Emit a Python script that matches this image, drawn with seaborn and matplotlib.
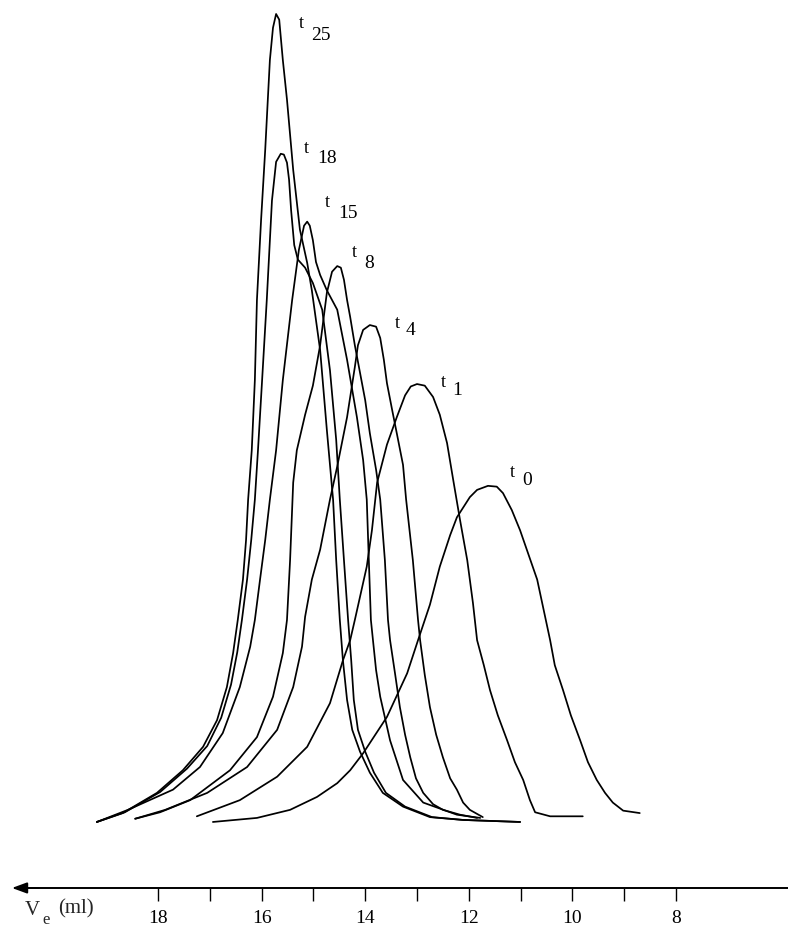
import numpy as np
import pandas as pd
import matplotlib
matplotlib.use("Agg")
import matplotlib.pyplot as plt
import seaborn as sns

# ---------------- data ----------------
samples = ["25", "18", "15", "8", "4", "1", "0"]

t25_ve = [19.18, 18.68, 18.02, 17.52, 17.13, 16.86, 16.67, 16.55, 16.46, 16.36, 16.30, 16.26,
          16.19, 16.13, 16.09, 16.01, 15.93, 15.88, 15.84, 15.78, 15.72,
          15.66, 15.59, 15.51, 15.39, 15.26, 15.12, 15.03, 14.87, 14.74, 14.62, 14.56, 14.49,
          14.43, 14.35, 14.25, 14.10, 13.91, 13.66, 13.27, 12.75, 12.11, 11.01]
t25_sig = [0, 1.1, 3.6, 6.4, 9.3, 12.6, 16.7, 20.9, 25.0, 30.0, 34.9, 39.9,
           46.0, 54.7, 64.6, 74.5, 83.2, 89.4, 94.3, 98.3, 100.0,
           99.3, 94.3, 89.4, 80.7, 73.3, 69.2, 65.8, 58.4, 48.5, 39.9, 32.4, 25.0,
           20.0, 15.1, 11.4, 8.7, 6.1, 3.6, 1.9, 0.6, 0.25, 0]

t18_ve = [19.18, 18.64, 17.96, 17.44, 17.05, 16.78, 16.59, 16.47, 16.38, 16.28, 16.20, 16.13,
          16.07, 15.99, 15.90, 15.80, 15.72, 15.63,
          15.57, 15.51, 15.47, 15.43, 15.37, 15.30, 15.16, 15.01, 14.83, 14.68, 14.56, 14.49,
          14.41, 14.33, 14.27, 14.22, 14.14, 14.00, 13.83, 13.60, 13.23, 12.71, 12.11, 11.01]
t18_sig = [0, 1.2, 3.7, 6.6, 9.4, 12.9, 17.0, 21.0, 25.0, 30.0, 34.9, 39.9,
           46.0, 54.7, 64.6, 76.9, 81.7, 82.7,
           82.6, 81.6, 79.5, 75.7, 71.4, 69.6, 68.6, 66.7, 63.4, 55.9, 47.3, 39.9,
           32.4, 25.0, 20.0, 15.1, 11.4, 8.7, 6.1, 3.6, 1.9, 0.6, 0.25, 0]

t15_ve = [19.18, 18.58, 17.71, 17.19, 16.75, 16.42, 16.22, 16.13, 16.03, 15.93, 15.84, 15.72,
          15.59, 15.41, 15.28, 15.18, 15.12,
          15.07, 15.01, 14.95, 14.87, 14.74, 14.54, 14.35, 14.16, 14.04, 13.97, 13.93, 13.89,
          13.85, 13.79, 13.71, 13.52, 13.27, 12.88, 12.23, 11.78]
t15_sig = [0, 1.5, 4.0, 6.8, 11.0, 16.7, 21.7, 25.0, 30.0, 34.9, 39.9, 46.0,
           54.7, 64.6, 70.8, 73.8, 74.3,
           73.8, 72.0, 69.3, 67.7, 65.8, 63.4, 57.2, 50.1, 44.8, 39.9, 32.4, 25.0,
           22.5, 18.8, 15.5, 10.1, 5.2, 2.4, 0.9, 0.5]

t8_ve = [18.44, 17.96, 17.38, 16.61, 16.09, 15.78, 15.59, 15.51, 15.45, 15.39, 15.32, 15.16,
         15.01, 14.87, 14.74, 14.64, 14.54,
         14.47, 14.41, 14.35, 14.29, 14.20, 14.10, 14.00, 13.91, 13.79, 13.71, 13.62, 13.56,
         13.52, 13.42, 13.33, 13.23, 13.13, 13.02, 12.88, 12.69, 12.50, 12.17, 11.84]
t8_sig = [0.4, 1.2, 2.7, 6.4, 10.5, 15.5, 20.9, 25.0, 32.4, 42.0, 46.0, 50.4,
          54.0, 59.0, 65.5, 68.1, 68.8,
          68.6, 67.1, 64.6, 62.5, 59.0, 55.6, 52.2, 48.1, 43.6, 39.9, 32.4, 25.0,
          22.5, 18.2, 14.2, 10.8, 8.0, 5.4, 3.6, 2.2, 1.5, 0.9, 0.5]

t4_ve = [18.44, 17.86, 17.05, 16.28, 15.70, 15.39, 15.22, 15.16, 15.03, 14.87, 14.68, 14.54,
         14.35, 14.20, 14.14, 14.04, 13.91,
         13.79, 13.71, 13.64, 13.58, 13.48, 13.39, 13.27, 13.21, 13.08, 12.98, 12.94, 12.85,
         12.75, 12.63, 12.50, 12.36, 12.23, 12.11, 11.98, 11.73]
t4_sig = [0.4, 1.5, 3.6, 6.8, 11.4, 16.7, 21.7, 25.4, 30.0, 33.7, 39.9, 44.0,
          50.1, 56.3, 59.0, 60.9, 61.5,
          61.3, 59.9, 57.2, 54.3, 51.0, 48.1, 44.2, 39.9, 32.4, 25.0, 22.5, 18.2,
          14.2, 10.8, 8.0, 5.4, 4.0, 2.4, 1.5, 0.6]

t1_ve = [17.25, 16.42, 15.70, 15.12, 14.68, 14.43, 14.29, 14.20, 13.97, 13.87, 13.77, 13.58,
         13.39, 13.23, 13.12, 13.00,
         12.85, 12.69, 12.56, 12.42, 12.30, 12.17, 12.03, 11.92, 11.84, 11.71, 11.59, 11.44,
         11.26, 11.11, 10.95, 10.82, 10.72, 10.43, 9.80]
t1_sig = [0.7, 2.7, 5.6, 9.3, 14.7, 20.0, 22.5, 25.0, 31.6, 36.1, 42.0, 46.7,
          50.1, 52.8, 53.9, 54.2,
          54.0, 52.6, 50.4, 46.9, 42.3, 37.4, 32.4, 27.1, 22.5, 19.4, 16.3, 13.2,
          10.1, 7.4, 5.2, 2.7, 1.2, 0.7, 0.7]

t0_ve = [16.94, 16.09, 15.45, 14.93, 14.54, 14.29, 14.04, 13.58, 13.19, 12.98, 12.75, 12.56,
         12.36, 12.23, 11.98, 11.84, 11.63,
         11.46, 11.34, 11.17, 11.01, 10.68, 10.43, 10.34, 10.18, 10.03, 9.85, 9.70, 9.53,
         9.37, 9.22, 9.02, 8.70]
t0_sig = [0, 0.5, 1.5, 3.1, 4.8, 6.4, 8.5, 13.0, 18.4, 22.5, 26.9, 31.6,
          35.5, 37.7, 40.2, 41.1, 41.6,
          41.5, 40.7, 38.6, 36.1, 30.0, 22.5, 19.4, 16.3, 13.2, 10.1, 7.4, 5.2,
          3.6, 2.4, 1.4, 1.1]

major_ticks = [18, 16, 14, 12, 10, 8]
minor_ticks = [17, 15, 13, 11, 9]

curves = {
    "25": (t25_ve, t25_sig), "18": (t18_ve, t18_sig), "15": (t15_ve, t15_sig),
    "8": (t8_ve, t8_sig), "4": (t4_ve, t4_sig), "1": (t1_ve, t1_sig), "0": (t0_ve, t0_sig),
}

rows = []
for s in samples:
    ve, sig = curves[s]
    for i, (v, g) in enumerate(zip(ve, sig)):
        rows.append({"sample": s, "order": i, "Ve": v, "signal": g})
df = pd.DataFrame(rows)

# ---------------- layout / style ----------------
# label offsets (pixels) from each peak: ("t" letter, subscript number)
label_offsets = {
    "25": ((23, -14), (35, -26)),
    "18": ((23, 1), (36, -9)),
    "15": ((18, 15), (31, 4)),
    "8": ((15, 9), (27, -2)),
    "4": ((25, -3), (36, -10)),
    "1": ((24, -3), (35, -11)),
    "0": ((22, 9), (34, 1)),
}

sns.set_theme(style="white")
plt.rcParams["font.family"] = ["Liberation Serif", "DejaVu Serif"]

fig = plt.figure(figsize=(7.88, 9.27), dpi=100)
ax = fig.add_axes([0, 0, 1, 1])
ax.set_facecolor("white")

sns.lineplot(data=df, x="Ve", y="signal", units="sample", estimator=None, sort=False,
             color="black", linewidth=1.25, ax=ax, legend=False)

ax.set_xlim(21.05, 5.838)
ax.set_ylim(-13.0, 101.73)
ax.set_xlabel("")
ax.set_ylabel("")
ax.set_yticks([])

for side in ["left", "right", "top"]:
    ax.spines[side].set_visible(False)
axis_y = -8.17
ax.spines["bottom"].set_position(("data", axis_y))
ax.spines["bottom"].set_bounds(20.5, 5.838)
ax.spines["bottom"].set_color("black")
ax.spines["bottom"].set_linewidth(1.4)

ax.set_xticks(major_ticks)
ax.set_xticklabels([str(t) for t in major_ticks])
ax.set_xticks(minor_ticks, minor=True)
ax.tick_params(axis="x", which="both", direction="out", length=9.5, width=1.0,
               color="black", bottom=True)
ax.tick_params(axis="x", which="major", pad=6, labelsize=14, labelcolor="black")

# arrow head at the left end of the axis
ax.annotate("", xy=(20.82, axis_y), xytext=(20.3, axis_y),
            arrowprops=dict(arrowstyle="-|>,head_length=0.6,head_width=0.22",
                            color="black", lw=1.4, mutation_scale=15,
                            shrinkA=0, shrinkB=0))

# curve labels
for s in samples:
    ve, sig = curves[s]
    k = int(np.argmax(sig))
    (tdx, tdy), (ndx, ndy) = label_offsets[s]
    ax.annotate("t", xy=(ve[k], sig[k]), xytext=(tdx, tdy), textcoords="offset pixels",
                ha="left", va="baseline", fontsize=13, color="black")
    ax.annotate(s, xy=(ve[k], sig[k]), xytext=(ndx, ndy), textcoords="offset pixels",
                ha="left", va="baseline", fontsize=14, color="black")

# axis title V_e (ml)
W, H = 788, 927
fig.text(25 / W, 1 - 915 / H, "V", fontsize=15, ha="left", va="baseline")
fig.text(42 / W, 1 - 924 / H, "e", fontsize=12, ha="left", va="baseline")
fig.text(58 / W, 1 - 913 / H, "(ml)", fontsize=15, ha="left", va="baseline")

fig.savefig("out.png", dpi=100, facecolor="white")
